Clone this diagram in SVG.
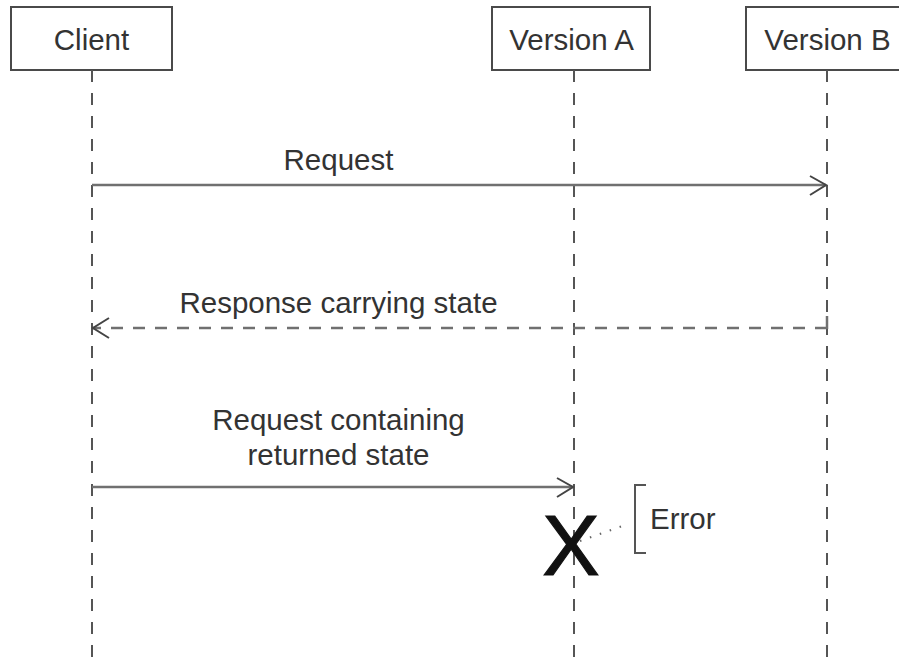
<svg xmlns="http://www.w3.org/2000/svg" width="899" height="659" viewBox="0 0 899 659">
<style>
.box{fill:#fff;stroke:#4a4a4a;stroke-width:2}
.t{font-family:"Liberation Sans",Arial,sans-serif;font-size:29.5px;fill:#333}
.c{text-anchor:middle}
.life{stroke:#555;stroke-width:2;stroke-dasharray:12 11;fill:none}
.msg{stroke:#707070;stroke-width:2.5;fill:none}
.dash{stroke-dasharray:12 10}
.head{stroke:#444;stroke-width:2;fill:none}
</style>
<rect width="899" height="659" fill="#fff"/>
<g id="client">
<rect class="box" x="11" y="7" width="161" height="63"/>
<text class="t c" x="91.5" y="50">Client</text>
<line class="life" x1="92" y1="70" x2="92" y2="659"/>
</g>
<g id="versionA">
<rect class="box" x="492" y="7" width="158" height="63"/>
<text class="t c" x="571.5" y="50">Version A</text>
<line class="life" x1="574" y1="70" x2="574" y2="659"/>
</g>
<g id="versionB">
<rect class="box" x="746" y="7" width="162" height="63"/>
<text class="t c" x="827.5" y="50">Version B</text>
<line class="life" x1="827" y1="70" x2="827" y2="659"/>
</g>
<g id="connectors">
<line class="msg" x1="92" y1="185" x2="826" y2="185"/>
<polyline class="head" points="810,176 826,185 810,195"/>
<text class="t c" x="338.5" y="170">Request</text>
<line class="msg dash" x1="827" y1="328" x2="93" y2="328"/>
<line class="msg" x1="827" y1="316" x2="827" y2="329"/>
<polyline class="head" points="109,318 93,328 109,338"/>
<text class="t c" x="338.5" y="313">Response carrying state</text>
<line class="msg" x1="92" y1="487" x2="573" y2="487"/>
<polyline class="head" points="557,478 573,487 557,497"/>
<text class="t c" x="338.5" y="430">Request containing</text>
<text class="t c" x="338.5" y="465">returned state</text>
</g>
<g id="destroy">
<text x="571" y="575" text-anchor="middle" stroke="#111" stroke-width="1.2" style="font-family:'Liberation Sans',Arial,sans-serif;font-size:86px;fill:#111">X</text>
<line x1="580" y1="541" x2="628" y2="524" stroke="#666" stroke-width="2" stroke-dasharray="1.5 9"/>
</g>
<g id="error">
<polyline points="646,485 635,485 635,553 646,553" fill="none" stroke="#555" stroke-width="2"/>
<text class="t" x="650" y="529">Error</text>
</g>
</svg>
